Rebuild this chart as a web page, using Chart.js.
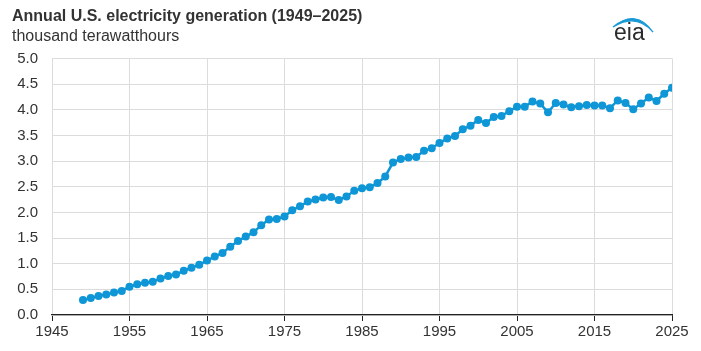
<!DOCTYPE html>
<html>
<head>
<meta charset="utf-8">
<script src="https://cdn.jsdelivr.net/npm/chart.js@4.4.1/dist/chart.umd.min.js"></script>
<style>
html,body{margin:0;padding:0;background:#fff;}
#wrap{width:701px;height:351px;position:relative;}
</style>
</head>
<body>
<div id="wrap"><canvas id="c" width="701" height="351"></canvas></div>
<script>
const titleText = "Annual U.S. electricity generation (1949\u20132025)";
const subtitleText = "thousand terawatthours";
const years = [1949,1950,1951,1952,1953,1954,1955,1956,1957,1958,1959,1960,1961,1962,1963,1964,1965,1966,1967,1968,1969,1970,1971,1972,1973,1974,1975,1976,1977,1978,1979,1980,1981,1982,1983,1984,1985,1986,1987,1988,1989,1990,1991,1992,1993,1994,1995,1996,1997,1998,1999,2000,2001,2002,2003,2004,2005,2006,2007,2008,2009,2010,2011,2012,2013,2014,2015,2016,2017,2018,2019,2020,2021,2022,2023,2024,2025];
const generation = [0.29,0.33,0.37,0.40,0.44,0.47,0.55,0.60,0.63,0.65,0.71,0.76,0.79,0.86,0.92,0.98,1.06,1.14,1.21,1.33,1.44,1.53,1.61,1.75,1.86,1.87,1.92,2.04,2.12,2.21,2.25,2.29,2.30,2.24,2.31,2.42,2.47,2.49,2.57,2.70,2.97,3.04,3.07,3.08,3.20,3.25,3.35,3.44,3.49,3.62,3.69,3.80,3.74,3.86,3.88,3.97,4.06,4.06,4.16,4.12,3.95,4.13,4.10,4.05,4.07,4.09,4.08,4.08,4.03,4.18,4.13,4.01,4.12,4.24,4.17,4.31,4.43];
const xTicks = [1945,1955,1965,1975,1985,1995,2005,2015,2025];
const yTicks = [0.0,0.5,1.0,1.5,2.0,2.5,3.0,3.5,4.0,4.5,5.0];

const FONT = "'Liberation Sans', Arial, Helvetica, sans-serif";
const BLUE = "#0e96d6";
const TEXT = "#333333";

const logoPlugin = {
  id: 'eiaLogo',
  afterDraw(chart) {
    const ctx = chart.ctx;
    ctx.save();
    ctx.beginPath();
    ctx.moveTo(613, 27);
    ctx.quadraticCurveTo(636, 8, 653, 32);
    ctx.quadraticCurveTo(636, 12.5, 613, 27);
    ctx.closePath();
    ctx.fillStyle = "#1a9ad7";
    ctx.fill();
    ctx.lineWidth = 1.2;
    ctx.strokeStyle = "#1a9ad7";
    ctx.stroke();
    ctx.fillStyle = "#2b2b2b";
    ctx.font = "23px " + FONT;
    ctx.textAlign = "left";
    ctx.textBaseline = "alphabetic";
    ctx.fillText("eia", 614, 40);
    ctx.restore();
  }
};

new Chart(document.getElementById('c'), {
  type: 'line',
  data: {
    datasets: [{
      data: years.map((y, i) => ({x: y, y: generation[i]})),
      borderColor: BLUE,
      backgroundColor: BLUE,
      borderWidth: 2.5,
      pointRadius: 4,
      pointBorderWidth: 0,
      pointBackgroundColor: BLUE,
      tension: 0
    }]
  },
  options: {
    responsive: false,
    animation: false,
    devicePixelRatio: 1,
    layout: { padding: { left: 12, right: 29, top: 0, bottom: 8 } },
    plugins: {
      legend: { display: false },
      tooltip: { enabled: false },
      title: {
        display: true, text: titleText, align: 'start', color: TEXT,
        font: { family: FONT, size: 16, weight: 'bold', lineHeight: 1.2 },
        padding: { top: 7, bottom: 1 }
      },
      subtitle: {
        display: true, text: subtitleText, align: 'start', color: TEXT,
        font: { family: FONT, size: 16, weight: 'normal', lineHeight: 1.2 },
        padding: { top: 0, bottom: 12 }
      }
    },
    scales: {
      x: {
        type: 'linear', min: xTicks[0], max: xTicks[xTicks.length - 1],
        afterBuildTicks: (s) => { s.ticks = xTicks.map(v => ({value: v})); },
        ticks: { color: TEXT, font: { family: FONT, size: 15 }, padding: 2, maxRotation: 0, callback: (v) => String(v) },
        grid: { color: '#dcdcdc', lineWidth: 1, tickColor: '#222', tickLength: 6, drawTicks: true },
        border: { display: true, color: '#222', width: 1.2 }
      },
      y: {
        min: 0, max: 5,
        afterBuildTicks: (s) => { s.ticks = yTicks.map(v => ({value: v})); },
        afterFit: (s) => { s.width = 40; },
        ticks: { color: TEXT, font: { family: FONT, size: 15 }, padding: 14, callback: (v) => Number(v).toFixed(1) },
        grid: { color: '#dcdcdc', lineWidth: 1, drawTicks: false },
        border: { display: false }
      }
    }
  },
  plugins: [logoPlugin]
});
</script>
</body>
</html>
